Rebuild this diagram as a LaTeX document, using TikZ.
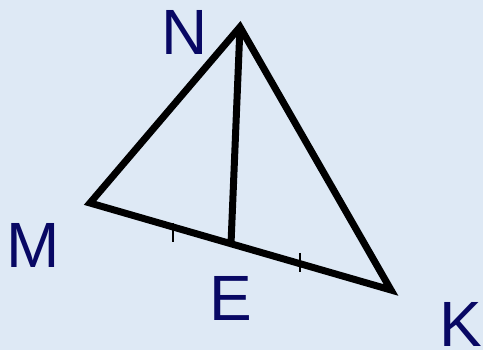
\documentclass[tikz,border=0pt]{standalone}
\usepackage{fontspec}
\setmainfont{Liberation Sans}
\begin{document}
\begin{tikzpicture}[x=1pt,y=-1pt,
  side/.style={line width=7pt,line join=miter,black},
  tickmark/.style={line width=1.2pt,black},
  lbl/.style={text=labelblue,font=\fontsize{64}{64}\selectfont,inner sep=0pt}]
\definecolor{labelblue}{RGB}{8,8,100}
\definecolor{bgblue}{RGB}{222,233,245}
\fill[bgblue] (0,0) rectangle (483,350);
\useasboundingbox (0,0) rectangle (483,350);
\coordinate (M) at (90,203);
\coordinate (N) at (240,27);
\coordinate (K) at (391,290);
\coordinate (E) at (231,244);
\draw[side] (M) -- (N) -- (K) -- cycle;
\draw[side,line cap=butt] (N) -- (E);
\coordinate (t1a) at (173,223);
\coordinate (t1b) at (173,242);
\coordinate (t2a) at (300,253);
\coordinate (t2b) at (300,272);
\draw[tickmark] (t1a) -- (t1b);
\draw[tickmark] (t2a) -- (t2b);
\node[lbl] (Nl) at (185,32) {N};
\node[lbl] (Ml) at (33,245) {M};
\node[lbl] (El) at (231,298) {E};
\node[lbl] (Kl) at (461,324) {K};
\end{tikzpicture}
\end{document}
